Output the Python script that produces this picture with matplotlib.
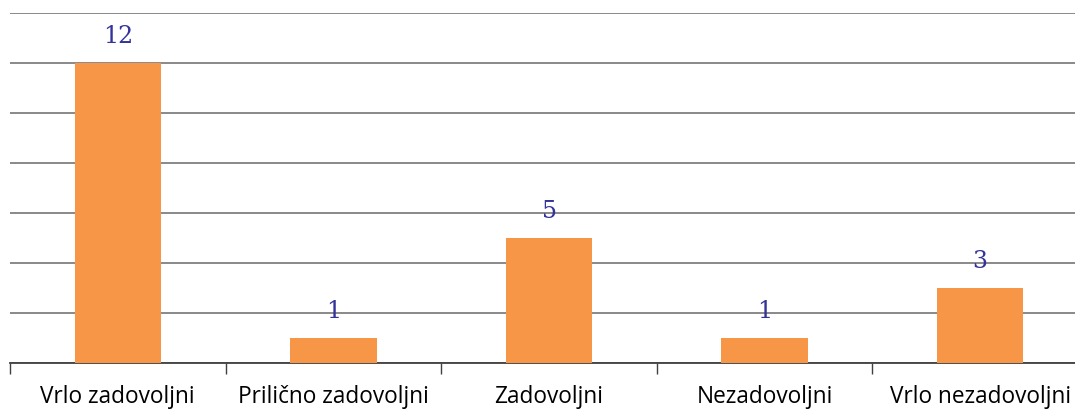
import matplotlib.pyplot as plt
from matplotlib.ticker import FixedLocator

# categories and counts
categories = ["Vrlo zadovoljni", "Prilično zadovoljni", "Zadovoljni",
              "Nezadovoljni", "Vrlo nezadovoljni"]
counts = [12, 1, 5, 1, 3]

fig = plt.figure(figsize=(10.75, 4.09), dpi=100)
# the original chart is cut off on the right, so the axes run past the figure edge
ax = fig.add_axes([10 / 1075, 46 / 409, 1078 / 1075, 350 / 409])

x = list(range(len(categories)))
ax.bar(x, counts, width=0.4, color="#F79646", zorder=3)

for xi, v in zip(x, counts):
    ax.text(xi, v + 0.6, str(v), ha="center", va="bottom",
            color="#333399", fontsize=17, family="DejaVu Serif")

ax.set_xlim(-0.5, len(categories) - 0.5)
ax.set_ylim(0, 14)
ax.set_yticks(range(0, 15, 2))
ax.yaxis.grid(True, color="#808080", linewidth=1.3, zorder=0)
ax.tick_params(axis="y", left=False, labelleft=False)

ax.set_xticks(x)
ax.set_xticklabels(categories, family="Open Sans", fontsize=16.3)
ax.xaxis.set_minor_locator(FixedLocator([i - 0.5 for i in range(len(categories) + 1)]))
ax.tick_params(axis="x", which="major", length=0, pad=16)
ax.tick_params(axis="x", which="minor", length=8, width=1, color="#404040")

for s in ["top", "right", "left"]:
    ax.spines[s].set_visible(False)
ax.spines["bottom"].set_color("#404040")
ax.spines["bottom"].set_linewidth(1.3)

fig.savefig("out.png", dpi=100)
